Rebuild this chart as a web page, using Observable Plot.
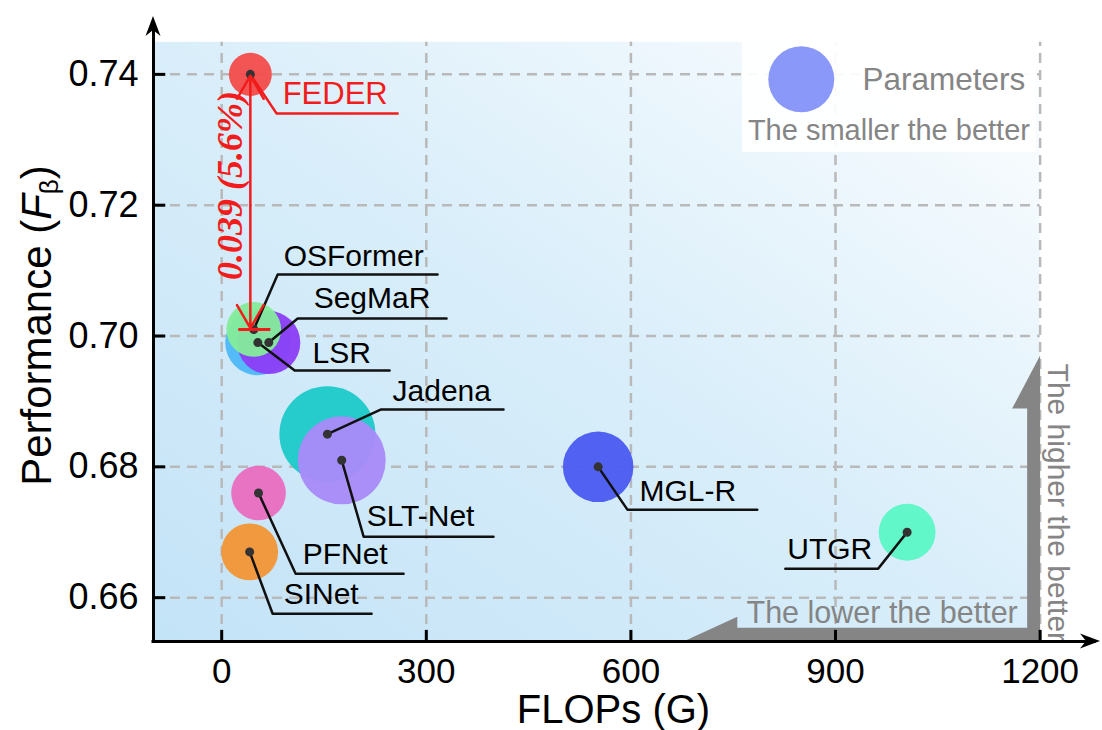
<!DOCTYPE html>
<html><head><meta charset="utf-8">
<script src="https://cdn.jsdelivr.net/npm/d3@7"></script>
<script src="https://cdn.jsdelivr.net/npm/@observablehq/plot@0.6"></script>
<style>html,body{margin:0;padding:0;background:#fff} svg{display:block}</style>
</head><body><div id="chart"></div>
<script>
// ---------- data ----------
const models = ["FEDER","SegMaR","LSR","OSFormer","Jadena","SLT-Net","PFNet","SINet","MGL-R","UTGR"];
const flops  = [42, 69, 53, 47, 155, 176, 54, 41, 552, 1005];           // G
const perf   = [0.740, 0.699, 0.699, 0.701, 0.685, 0.681, 0.676, 0.667, 0.680, 0.670];
const params = [34, 55.6, 57.9, 46.6, 91, 82.3, 46.5, 48.9, 63.6, 48.8]; // M
const colors = ["#F34B4B","#8B3DF5","#4DB7F8","#84EC99","#1CC9C9","#A98AF8","#E86DBF","#F29535","#4A5AF0","#5CF7C6"];
const xTicks = [0, 300, 600, 900, 1200];
const yTicks = [0.66, 0.68, 0.70, 0.72, 0.74];
const legendParam = 58.7;
const gain = "0.039 (5.6%)";

// ---------- layout (annotation anchors, data units) ----------
const xMin = -100, xMax = 1290, yMin = 0.6533, yMax = 0.749, bgTop = 0.7449;
const elbowX = [80.6, 111.4, 107.0, 82.1, 233.0, 208.1, 108.4, 74.7, 594.9, 962.6];
const elbowY = [0.7340, 0.70268, 0.69472, 0.70941, 0.68876, 0.66933, 0.66367, 0.65755, 0.67346, 0.66444];
const endX   = [258, 329.7, 246.2, 316.5, 413.2, 398.5, 266.7, 219.8, 785.3, 826.4];
const textX  = [89.4, 134.8, 133.3, 90.8, 250.5, 212.5, 118.7, 90.8, 612.5, 829.3];
const textY  = [0.73541, 0.70421, 0.69595, 0.71063, 0.6900, 0.67101, 0.66520, 0.65908, 0.67484, 0.66597];

const rows = models.map((m, i) => ({model: m, flops: flops[i], perf: perf[i], params: params[i], color: colors[i],
  ex: elbowX[i], ey: elbowY[i], endx: endX[i], tx: textX[i], ty: textY[i]}));
const leaders = rows.flatMap(d => [
  {model: d.model, x: d.flops, y: d.perf},
  {model: d.model, x: d.ex, y: d.ey},
  {model: d.model, x: d.endx, y: d.ey}]);
const greyArrow = [[676.9,yMin],[756,0.65709],[756,0.65541],[1181,0.65541],[1181,0.68891],[1159,0.68891],[1200,0.69702],[1200,yMin]]
  .map(([x,y]) => ({x, y}));

function background(index, {x, y}) {
  const g = d3.create("svg:g");
  const grad = g.append("defs").append("linearGradient").attr("id", "bgGrad")
    .attr("x1", 0).attr("y1", 1).attr("x2", 1).attr("y2", 0);
  [[0, "#c3e3f7"], [0.5, "#d9eefa"], [0.82, "#f0f8fd"], [1, "#ffffff"]]
    .forEach(([o, c]) => grad.append("stop").attr("offset", o).attr("stop-color", c));
  g.append("rect").attr("x", x(xMin)).attr("y", y(bgTop))
    .attr("width", x(1200) - x(xMin)).attr("height", y(yMin) - y(bgTop)).attr("fill", "url(#bgGrad)");
  return g.node();
}
// filled stealth arrowheads at the ends of both axes
function axisHeads(index, {x, y}) {
  const g = d3.create("svg:g").attr("fill", "#000");
  const tx = x(xMax) - 1, ty = y(yMin);
  g.append("path").attr("d", `M${tx},${ty}L${tx - 20},${ty - 7.5}L${tx - 14},${ty}L${tx - 20},${ty + 7.5}Z`);
  const ux = x(xMin), uy = y(yMax) + 1;
  g.append("path").attr("d", `M${ux},${uy}L${ux - 7.5},${uy + 20}L${ux},${uy + 14}L${ux + 7.5},${uy + 20}Z`);
  return g.node();
}

const font = "'Liberation Sans', Arial, sans-serif";
const red = "#f21c1c", grey = "#858585";

const chart = Plot.plot({
  width: 1102, height: 730,
  marginLeft: 153, marginRight: 1, marginTop: 15, marginBottom: 89,
  style: {fontFamily: font, background: "white", color: "#000", overflow: "visible"},
  x: {domain: [xMin, xMax], axis: null},
  y: {domain: [yMin, yMax], axis: null},
  r: {type: "linear", domain: [0, 100], range: [5.7, 52.2]},
  color: {type: "identity"},
  marks: [
    background,
    Plot.ruleX(xTicks, {y1: yMin, y2: bgTop, stroke: "#b9b9b9", strokeWidth: 2.5, strokeDasharray: "10,7"}),
    Plot.ruleY(yTicks, {x1: xMin, x2: 1200, stroke: "#b9b9b9", strokeWidth: 2.5, strokeDasharray: "10,7"}),
    // legend box
    Plot.rect([0], {x1: 763.4, x2: 1194, y1: 0.72807, y2: 0.7452, fill: "white", fillOpacity: 0.92}),
    Plot.dot([legendParam], {x: 849.8, y: 0.73924, r: d => d, fill: "#8A98FA"}),
    Plot.text(["Parameters"], {x: 939.5, y: 0.73755, textAnchor: "start", lineAnchor: "bottom", fontSize: 31.5, fill: grey}),
    Plot.text(["The smaller the better"], {x: 771.5, y: 0.7299, textAnchor: "start", lineAnchor: "bottom", fontSize: 29, fill: grey}),
    // grey arrows
    Plot.line(greyArrow, {x: "x", y: "y", fill: grey, stroke: "none"}),
    Plot.text(["The lower the better"], {x: 769.5, y: 0.65618, textAnchor: "start", lineAnchor: "bottom", fontSize: 30.5, fill: grey}),
    Plot.text(["The higher the better"], {x: 1211.7, y: 0.6745, rotate: 90, textAnchor: "middle", lineAnchor: "bottom", fontSize: 30, fill: grey}),
    // bubbles
    Plot.dot(rows, {x: "flops", y: "perf", r: "params", fill: "color", fillOpacity: 0.95}),
    // leaders
    Plot.line(leaders.filter(d => d.model !== "FEDER"), {x: "x", y: "y", z: "model", stroke: "#111", strokeWidth: 2.5}),
    Plot.line(leaders.filter(d => d.model === "FEDER"), {x: "x", y: "y", z: "model", stroke: red, strokeWidth: 2.5}),
    Plot.dot(rows, {x: "flops", y: "perf", r: 4.5, fill: "#333"}),
    Plot.text(rows.filter(d => d.model !== "FEDER"), {x: "tx", y: "ty", text: "model", textAnchor: "start", lineAnchor: "bottom", fontSize: 30, fill: "#000"}),
    Plot.text(rows.filter(d => d.model === "FEDER"), {x: "tx", y: "ty", text: "model", textAnchor: "start", lineAnchor: "bottom", fontSize: 31, fill: red}),
    // red gain annotation
    Plot.arrow([0], {x1: flops[0], x2: flops[0], y1: 0.72, y2: perf[0] - 0.0002, stroke: red, strokeWidth: 2.5, headLength: 16}),
    Plot.arrow([0], {x1: flops[0], x2: flops[0], y1: 0.72, y2: perf[3] + 0.0002, stroke: red, strokeWidth: 2.5, headLength: 16}),
    Plot.ruleY([perf[3]], {x1: 25, x2: 72, stroke: red, strokeWidth: 3}),
    Plot.text([gain], {x: 13.2, y: 0.72302, rotate: -90, textAnchor: "middle", lineAnchor: "middle", fontSize: 36,
      fontFamily: "'Liberation Serif', 'Times New Roman', serif", fontWeight: "bold", fontStyle: "italic", fill: red}),
    // axes
    Plot.ruleY(yTicks, {x1: xMin, x2: xMin + 18, stroke: "#000", strokeWidth: 3}),
    Plot.ruleX(xTicks, {y1: yMin, y2: yMin + 0.0017, stroke: "#000", strokeWidth: 3}),
    Plot.ruleY([yMin], {x1: xMin, x2: xMax - 10, stroke: "#000", strokeWidth: 3, strokeLinecap: "square"}),
    Plot.ruleX([xMin], {y1: yMin, y2: yMax - 0.0015, stroke: "#000", strokeWidth: 3, strokeLinecap: "square"}),
    axisHeads,
    Plot.axisX({ticks: xTicks, tickSize: 0, tickPadding: 17, fontSize: 35, tickFormat: d3.format("d"), stroke: "none"}),
    Plot.axisY({ticks: yTicks, tickSize: 0, tickPadding: 15, fontSize: 36, tickFormat: d3.format(".2f"), stroke: "none"}),
    Plot.text(["FLOPs (G)"], {frameAnchor: "bottom", dx: -14, dy: 81, textAnchor: "middle", lineAnchor: "bottom", fontSize: 40, fill: "#000"}),
    Plot.text(["Performance (Fβ)"], {frameAnchor: "left", dx: -103, dy: -3, rotate: -90, textAnchor: "middle", lineAnchor: "bottom", fontSize: 42, fill: "#000"})
  ]
});
document.getElementById("chart").appendChild(chart);

// rich text for the y title: italic F with subscript beta
chart.querySelectorAll("text").forEach(t => {
  if (t.textContent === "Performance (Fβ)") {
    t.innerHTML = 'Performance (<tspan font-style="italic">F</tspan><tspan font-size="0.62em" dy="0.3em">β</tspan><tspan dy="-0.186em">)</tspan>';
  }
});
</script>
</body></html>
